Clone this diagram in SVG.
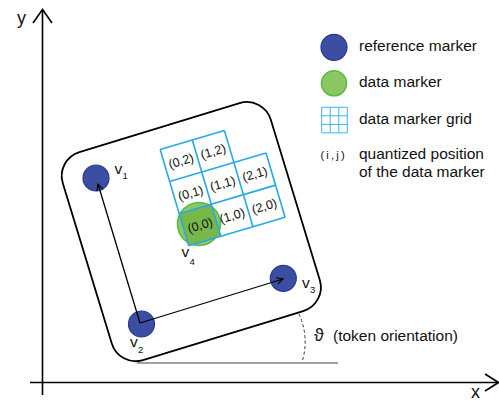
<svg xmlns="http://www.w3.org/2000/svg" width="499" height="401" viewBox="0 0 499 401">
<style>
text{font-family:"Liberation Sans","DejaVu Sans",Arial,sans-serif;fill:#111}
.lbl{font-size:15.5px}
.sub{font-size:9.5px}
.cell{font-size:12.5px;text-anchor:middle}
.ref{fill:#3b4ea2;stroke:#2a3a8e;stroke-width:1.2}
.dat{fill:#8cc862;stroke:#5cb946;stroke-width:1.6}
.grid{fill:none;stroke:#27a9e6;stroke-width:1.6}
.ax{fill:none;stroke:#000;stroke-width:1.6}
.vec{fill:none;stroke:#000;stroke-width:1.3}
</style>
<defs>
<marker id="arr" viewBox="0 0 10 10" refX="9" refY="5" markerWidth="8" markerHeight="8" orient="auto" markerUnits="userSpaceOnUse">
<path d="M1,1 L9,5 L1,9" fill="none" stroke="#000" stroke-width="1.3"/>
</marker>
</defs>
<g id="axes">
<line class="ax" x1="42.5" y1="395" x2="42.5" y2="10"/>
<polyline class="ax" points="33,23 42.5,9.5 52,23"/>
<line class="ax" x1="30" y1="382.5" x2="498" y2="382.5"/>
<polyline class="ax" points="485,374 498.5,382.5 485,391"/>
<text x="17" y="24" style="font-size:18px">y</text>
<text x="471" y="398" style="font-size:18px">x</text>
</g>
<g id="token">
<rect x="-108.75" y="-108.75" width="217.5" height="217.5" rx="25" fill="none" stroke="#000" stroke-width="1.8" transform="translate(191.3,231.6) rotate(-17)"/>
</g>
<g id="orientation">
<line x1="137" y1="363" x2="338" y2="363" stroke="#444" stroke-width="1"/>
<path d="M299,314 A66,66 0 0 1 302,362" fill="none" stroke="#333" stroke-width="1" stroke-dasharray="3,2.5"/>
<text x="314" y="341" style="font-size:18px">ϑ</text>
<text x="333" y="341" class="lbl">(token orientation)</text>
</g>
<g id="data-marker">
<circle class="dat" cx="199" cy="224" r="21.5"/>
</g>
<g id="grid" transform="translate(188.7,245.8) rotate(-16.5)">
<rect x="0" y="-33.5" width="33.5" height="33.5" fill="#78b84a"/>
<path class="grid" d="M0,0 H100.5 M0,-33.5 H100.5 M0,-67 H100.5 M0,-100.5 H67 M0,0 V-100.5 M33.5,0 V-100.5 M67,0 V-100.5 M100.5,0 V-67"/>
<text class="cell" x="16.75" y="-12.3">(0,0)</text>
<text class="cell" x="50.25" y="-12.3">(1,0)</text>
<text class="cell" x="83.75" y="-12.3">(2,0)</text>
<text class="cell" x="16.75" y="-45.8">(0,1)</text>
<text class="cell" x="50.25" y="-45.8">(1,1)</text>
<text class="cell" x="83.75" y="-45.8">(2,1)</text>
<text class="cell" x="16.75" y="-79.3">(0,2)</text>
<text class="cell" x="50.25" y="-79.3">(1,2)</text>
</g>
<g id="v1"><circle class="ref" cx="96" cy="178" r="13"/><text class="lbl" x="114.5" y="174">v</text><text class="sub" x="122.5" y="178.5">1</text></g>
<g id="v2"><circle class="ref" cx="141.5" cy="324" r="13"/><text class="lbl" x="130" y="347">v</text><text class="sub" x="138" y="352.5">2</text></g>
<g id="v3"><circle class="ref" cx="283.3" cy="278.3" r="13"/><text class="lbl" x="302" y="287.5">v</text><text class="sub" x="310" y="293">3</text></g>
<g id="v4"><text class="lbl" x="181.5" y="257">v</text><text class="sub" x="189.5" y="265">4</text></g>
<g id="connectors">
<line class="vec" x1="140" y1="323" x2="98" y2="184" marker-end="url(#arr)"/>
<line class="vec" x1="140" y1="323" x2="283" y2="279" marker-end="url(#arr)"/>
</g>
<g id="legend">
<circle class="ref" cx="334" cy="47.3" r="13"/>
<text class="lbl" x="359" y="50.5">reference marker</text>
<circle class="dat" cx="334" cy="83.3" r="12.5"/>
<text class="lbl" x="359" y="87">data marker</text>
<path d="M321.7,107.3 h25.6 v25.6 h-25.6 z M321.7,115.8 h25.6 M321.7,124.4 h25.6 M330.2,107.3 v25.6 M338.8,107.3 v25.6" fill="none" stroke="#3db4ef" stroke-width="1"/>
<text class="lbl" x="359" y="124">data marker grid</text>
<text x="320.5" y="158.5" style="font-size:11px;letter-spacing:2.2px">(i,j)</text>
<text class="lbl" x="359" y="158.5">quantized position</text>
<text class="lbl" x="359" y="177">of the data marker</text>
</g>
</svg>
